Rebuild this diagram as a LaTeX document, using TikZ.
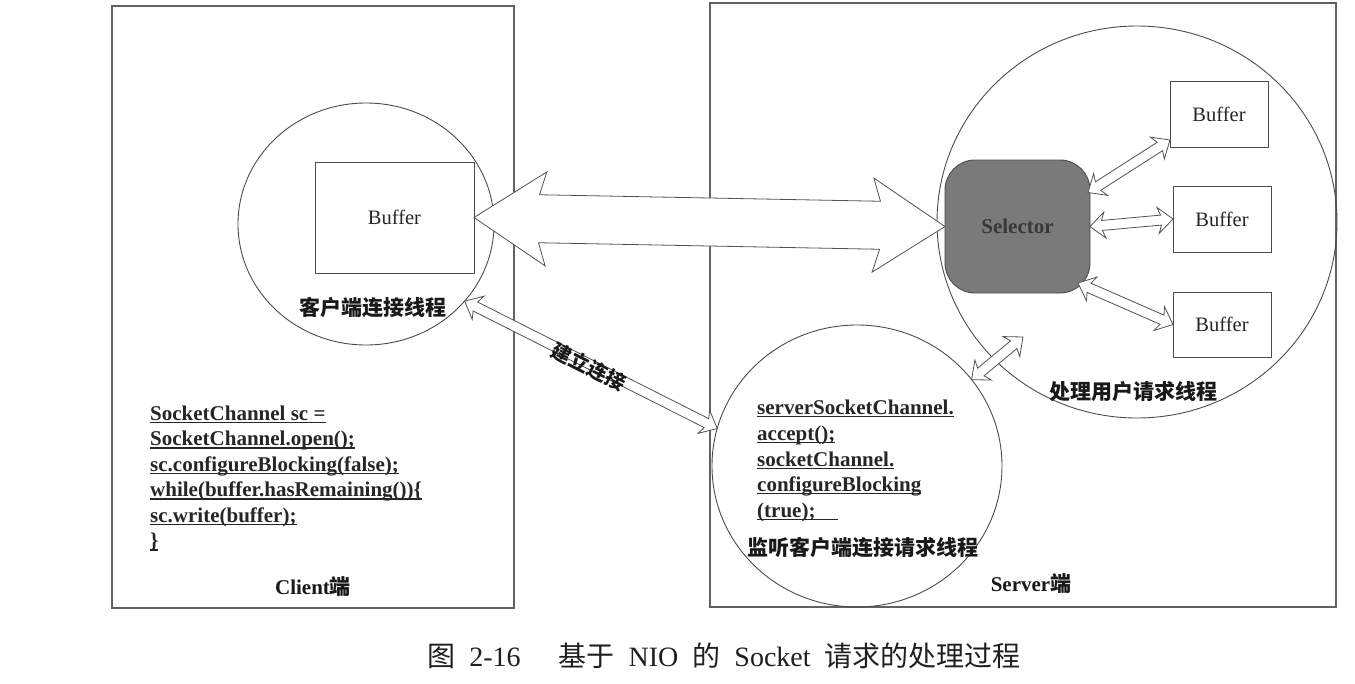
\documentclass[tikz,border=0pt]{standalone}
\usepackage{fontspec}
\setmainfont{Liberation Serif}
\newfontfamily\cjk{Noto Sans CJK SC}
\usetikzlibrary{calc,shapes.geometric}

\newcommand\codeul[1]{\setbox0\hbox{#1}\rlap{\rule[-3pt]{\wd0}{1.2pt}}\box0}

\newcommand\fatdarrow[6]{% A, B, shaft half width, head half width, join length, barb
  \draw[arrowline] (#1)
    -- ($(#1)!{#5+#6}!(#2)!#4!90:(#2)$)
    -- ($(#1)!#5!(#2)!#3!90:(#2)$)
    -- ($(#2)!#5!(#1)!#3!-90:(#1)$)
    -- ($(#2)!{#5+#6}!(#1)!#4!-90:(#1)$)
    -- (#2)
    -- ($(#2)!{#5+#6}!(#1)!#4!90:(#1)$)
    -- ($(#2)!#5!(#1)!#3!90:(#1)$)
    -- ($(#1)!#5!(#2)!#3!-90:(#2)$)
    -- ($(#1)!{#5+#6}!(#2)!#4!-90:(#2)$)
    -- cycle;}

\tikzset{
  frame/.style={draw=black!62, line width=1.1pt},
  ring/.style={ellipse, draw=black!70, line width=0.9pt, inner sep=0pt, outer sep=0pt},
  bufbox/.style={draw=black!70, line width=0.9pt, inner sep=0pt, outer sep=0pt,
    font=\fontsize{20.5}{24}\selectfont, text=black!85},
  arrowline/.style={draw=black!68, line width=0.8pt, fill=white, line join=miter},
  codeline/.style={anchor=base west, inner sep=0pt, font=\fontsize{21}{25}\selectfont\bfseries, text=black!85},
  cnlabel/.style={inner sep=0pt, font=\fontsize{21}{25}\selectfont\cjk\bfseries, text=black!90},
  latlabel/.style={inner sep=0pt, font=\fontsize{21}{25}\selectfont\bfseries, text=black!90},
}

\begin{document}
\begin{tikzpicture}[x=1pt,y=-1pt]
\useasboundingbox (0,0) rectangle (1355,683);
\fill[white] (0,0) rectangle (1355,683);

% side frames
\draw[frame] (112,6) rectangle (514,608);
\draw[frame] (710,3) rectangle (1336,607);

% thread circles
\node[ring, minimum width=256pt, minimum height=242pt] (lc) at (366,224) {};
\node[ring, minimum width=400pt, minimum height=392pt] (bc) at (1137,222) {};
\node[ring, minimum width=290pt, minimum height=282pt] (mc) at (857,466) {};

% buffers
\node[bufbox, minimum width=159pt, minimum height=111pt] (lbuf) at (394.5,217.5) {Buffer};
\node[bufbox, minimum width=98pt, minimum height=66pt] (buf1) at (1219,114) {Buffer};
\node[bufbox, minimum width=98pt, minimum height=66pt] (buf2) at (1222,219) {Buffer};
\node[bufbox, minimum width=98pt, minimum height=65pt] (buf3) at (1222,324.5) {Buffer};

% selector
\node[draw=black!70, line width=0.9pt, fill=black!52, rounded corners=30pt,
      minimum width=145pt, minimum height=133pt, inner sep=0pt, outer sep=0pt,
      font=\fontsize{21}{25}\selectfont\bfseries, text=black!78] (sel) at (1017.5,226.5) {Selector};

% connector end points
\coordinate (selA) at ($(sel.east)+(-2,-34)$);
\coordinate (b1A) at ($(buf1.south west)+(0,-7)$);
\coordinate (selC) at ($(sel.south east)+(-12,-10)$);
\coordinate (bcin) at (1023,337);

% connectors
\fatdarrow{lbuf.east}{sel.west}{24pt}{47pt}{65pt}{7pt}
\fatdarrow{selA}{b1A}{5pt}{13pt}{12pt}{3pt}
\fatdarrow{sel.east}{buf2.west}{5pt}{13pt}{12pt}{3pt}
\fatdarrow{selC}{buf3.west}{5pt}{13pt}{12pt}{3pt}
\fatdarrow{mc.37}{bcin}{5pt}{13pt}{12pt}{3pt}
\fatdarrow{lc.-38}{mc.165}{5pt}{13pt}{12pt}{3pt}

\node[cnlabel, rotate=-27, font=\fontsize{20}{22}\selectfont\cjk\bfseries] (lk) at (589,367) {建立连接};

% labels
\node[cnlabel] (lcl) at (373,308) {客户端连接线程};
\node[cnlabel] (bcl) at (1133,392) {处理用户请求线程};
\node[cnlabel] (mcl) at (863,548) {监听客户端连接请求线程};
\node[latlabel] (cl) at (313,587) {Client{\cjk 端}};
\node[latlabel] (sl) at (1031,584) {Server{\cjk 端}};

% client code
\node[codeline] (c1) at (150,420) {\codeul{SocketChannel sc =}};
\node[codeline] (c2) at (150,445.5) {\codeul{SocketChannel.open();}};
\node[codeline] (c3) at (150,471) {\codeul{sc.configureBlocking(false);}};
\node[codeline] (c4) at (150,496.5) {\codeul{while(buffer.hasRemaining())\{}};
\node[codeline] (c5) at (150,522) {\codeul{sc.write(buffer);}};
\node[codeline] (c6) at (150,547.5) {\codeul{\}}};

% server code
\node[codeline] (s1) at (757,414) {\codeul{serverSocketChannel.}};
\node[codeline] (s2) at (757,440) {\codeul{accept();}};
\node[codeline] (s3) at (757,466) {\codeul{socketChannel.}};
\node[codeline] (s4) at (757,491) {\codeul{configureBlocking}};
\node[codeline] (s5) at (757,517) {\codeul{(true);\hspace{22pt}}};

% caption
\node[inner sep=0pt, font=\fontsize{28}{32}\selectfont, text=black!88] (cap) at (724,656)
  {{\cjk 图}\hspace{14pt}2-16\hspace{38pt}{\cjk 基于}\hspace{14pt}NIO\hspace{14pt}{\cjk 的}\hspace{14pt}Socket\hspace{14pt}{\cjk 请求的处理过程}};
\end{tikzpicture}
\end{document}
